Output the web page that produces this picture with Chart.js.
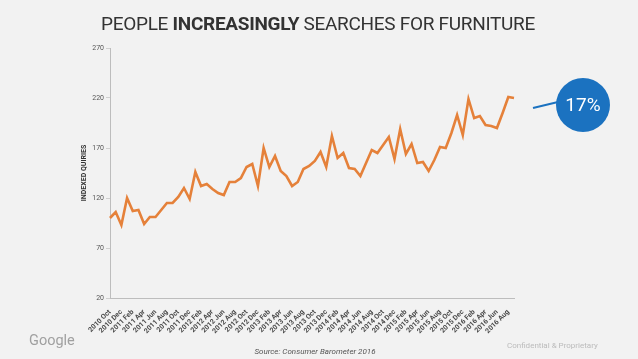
<!DOCTYPE html>
<html>
<head>
<meta charset="utf-8">
<script src="https://cdn.jsdelivr.net/npm/chart.js@4"></script>
<style>
  html, body { margin: 0; padding: 0; background: #f2f2f2; }
  body { width: 638px; height: 359px; position: relative; overflow: hidden; font-family: Roboto, sans-serif; }
  #chartCanvas { position: absolute; left: 0; top: 0; }
  .title { position: absolute; top: 12px; left: 0; width: 636px; text-align: center; font-size: 19px; color: #333; letter-spacing: -0.3px; }
  .title b { font-weight: 700; }
  .google { position: absolute; left: 29px; top: 332px; font-size: 14.5px; color: #a0a0a0; }
  .source { position: absolute; left: 0; width: 630px; top: 347px; text-align: center; font-size: 8px; font-style: italic; color: #555; }
  .conf { position: absolute; left: 507px; top: 341px; font-size: 8px; color: #bbb; }
  .badge { position: absolute; left: 556px; top: 78px; width: 54px; height: 54px; border-radius: 50%; background: #1b72c0; color: #fff; font-size: 19px; line-height: 54px; text-align: center; }
  svg { position: absolute; left: 0; top: 0; }
</style>
</head>
<body>
<canvas id="chartCanvas" width="638" height="359"></canvas>
<div class="title">PEOPLE <b>INCREASINGLY</b> SEARCHES FOR FURNITURE</div>
<svg width="638" height="359"><line x1="533" y1="108" x2="558" y2="102" stroke="#1b72c0" stroke-width="2"/></svg>
<div class="badge">17%</div>
<div class="google">Google</div>
<div class="source">Source: Consumer Barometer 2016</div>
<div class="conf">Confidential &amp; Proprietary</div>
<script>
const months = [
  '2010 Oct', '2010 Nov', '2010 Dec',
  '2011 Jan', '2011 Feb', '2011 Mar', '2011 Apr', '2011 May', '2011 Jun', '2011 Jul', '2011 Aug', '2011 Sep', '2011 Oct', '2011 Nov', '2011 Dec',
  '2012 Jan', '2012 Feb', '2012 Mar', '2012 Apr', '2012 May', '2012 Jun', '2012 Jul', '2012 Aug', '2012 Sep', '2012 Oct', '2012 Nov', '2012 Dec',
  '2013 Jan', '2013 Feb', '2013 Mar', '2013 Apr', '2013 May', '2013 Jun', '2013 Jul', '2013 Aug', '2013 Sep', '2013 Oct', '2013 Nov', '2013 Dec',
  '2014 Jan', '2014 Feb', '2014 Mar', '2014 Apr', '2014 May', '2014 Jun', '2014 Jul', '2014 Aug', '2014 Sep', '2014 Oct', '2014 Nov', '2014 Dec',
  '2015 Jan', '2015 Feb', '2015 Mar', '2015 Apr', '2015 May', '2015 Jun', '2015 Jul', '2015 Aug', '2015 Sep', '2015 Oct', '2015 Nov', '2015 Dec',
  '2016 Jan', '2016 Feb', '2016 Mar', '2016 Apr', '2016 May', '2016 Jun', '2016 Jul', '2016 Aug', '2016 Sep'
];

const queries = [
  100, 106, 93, 120, 107, 108, 94, 101, 101, 108, 115, 115,
  121, 130, 119, 146, 132, 134, 129, 125, 123, 136, 136, 140,
  151, 154, 132, 170, 151, 162, 147, 142, 132, 136, 149, 152,
  157, 166, 151, 182, 160, 165, 150, 149, 142, 155, 168, 165,
  173, 181, 159, 189, 164, 174, 155, 156, 147, 158, 171, 170,
  185, 203, 183, 219, 200, 202, 193, 192, 190, 205, 221, 220
];

const yTicks = [20, 70, 120, 170, 220, 270];

const ctx = document.getElementById('chartCanvas').getContext('2d');

new Chart(ctx, {
  type: 'line',
  data: {
    labels: months,
    datasets: [{
      data: queries,
      borderColor: '#e5813a',
      borderWidth: 2.6,
      pointRadius: 0,
      tension: 0,
      fill: false
    }]
  },
  options: {
    responsive: false,
    animation: false,
    layout: { padding: { left: 80, right: 124, top: 48, bottom: 0 } },
    plugins: { legend: { display: false }, tooltip: { enabled: false } },
    scales: {
      x: {
        offset: false,
        grid: { display: false },
        border: { color: '#bdbdbd', dash: [1, 2], width: 1 },
        afterFit: scale => { scale.height = 61; },
        ticks: {
          autoSkip: false,
          minRotation: 45,
          maxRotation: 45,
          padding: 2,
          color: '#4a4a4a',
          font: { family: 'Roboto', size: 7, weight: 'bold' },
          callback: function (val, i) {
            return i % 2 === 0 ? this.getLabelForValue(val) : '';
          }
        }
      },
      y: {
        min: 20,
        max: 270,
        afterFit: scale => { scale.width = 30; },
        afterBuildTicks: scale => { scale.ticks = yTicks.map(v => ({ value: v })); },
        grid: { drawOnChartArea: false, drawTicks: true, tickLength: 4, color: '#d0d0d0' },
        border: { color: '#bdbdbd', dash: [1, 2], width: 1 },
        ticks: {
          padding: 2,
          color: '#555',
          font: { family: 'Roboto', size: 7 }
        },
        title: {
          display: true,
          text: 'INDEXED QUIRIES',
          color: '#333',
          padding: 0,
          font: { family: 'Roboto', size: 7, weight: 'bold' }
        }
      }
    }
  }
});
</script>
</body>
</html>
